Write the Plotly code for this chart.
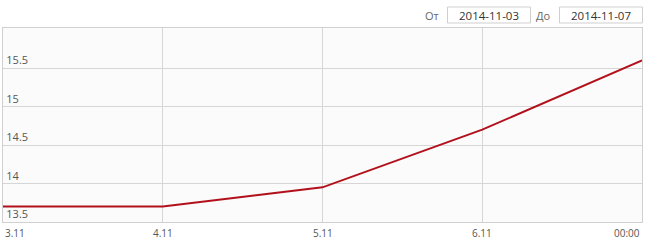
import plotly.graph_objects as go

# Data
day_labels = ["3.11", "4.11", "5.11", "6.11", "00:00"]
day_index = [0, 1, 2, 3, 4]
values = [13.7, 13.7, 13.95, 14.7, 15.6]
y_ticks = [13.5, 14, 14.5, 15, 15.5]
date_from = "2014-11-03"
date_to = "2014-11-07"

W, H = 647, 242
L, R, T, B = 3, 5, 28, 20
pw, ph = W - L - R, H - T - B


def px(x):
    return (x - L) / pw


def py(y):
    return (H - B - y) / ph


fig = go.Figure()
fig.add_trace(go.Scatter(
    x=day_index, y=values, mode="lines",
    line=dict(color="#b2111c", width=2),
    hoverinfo="skip", showlegend=False,
))

font = "Open Sans, DejaVu Sans, sans-serif"

annotations = []
for i, lab in zip(day_index, day_labels):
    anchor = "center"
    if i == day_index[0]:
        anchor = "left"
    elif i == day_index[-1]:
        anchor = "right"
    annotations.append(dict(
        x=i, y=0, xref="x", yref="paper", text=lab, showarrow=False,
        xanchor=anchor, yanchor="top", yshift=-2,
        font=dict(family=font, size=10, color="#555"),
    ))

# date controls
annotations.append(dict(x=px(441), y=py(15), xref="paper", yref="paper", text="От",
                        showarrow=False, xanchor="right", yanchor="middle",
                        font=dict(family=font, size=11, color="#666")))
annotations.append(dict(x=px(489), y=py(15), xref="paper", yref="paper", text=date_from,
                        showarrow=False, xanchor="center", yanchor="middle",
                        font=dict(family=font, size=11.5, color="#333")))
annotations.append(dict(x=px(553), y=py(15), xref="paper", yref="paper", text="До",
                        showarrow=False, xanchor="right", yanchor="middle",
                        font=dict(family=font, size=11, color="#666")))
annotations.append(dict(x=px(601), y=py(15), xref="paper", yref="paper", text=date_to,
                        showarrow=False, xanchor="center", yanchor="middle",
                        font=dict(family=font, size=11.5, color="#333")))

shapes = [
    dict(type="rect", xref="paper", yref="paper", x0=px(447.5), x1=px(530.5),
         y0=py(23), y1=py(7), line=dict(color="#cfcfcf", width=1), fillcolor="white"),
    dict(type="rect", xref="paper", yref="paper", x0=px(559.5), x1=px(642.5),
         y0=py(23), y1=py(7), line=dict(color="#cfcfcf", width=1), fillcolor="white"),
]

fig.update_layout(
    width=W, height=H,
    margin=dict(l=L, r=R, t=T, b=B),
    paper_bgcolor="white",
    plot_bgcolor="#fbfbfb",
    annotations=annotations,
    shapes=shapes,
    xaxis=dict(
        range=[day_index[0], day_index[-1]],
        tickvals=day_index, showticklabels=False,
        showgrid=True, gridcolor="#d6d6d6", gridwidth=1,
        zeroline=False, showline=True, mirror=True, linecolor="#d0d0d0", linewidth=1,
        fixedrange=True,
    ),
    yaxis=dict(
        range=[13.5, 16.02],
        tickvals=y_ticks, ticktext=[f"{v:g}" for v in y_ticks],
        ticklabelposition="inside top",
        ticklabelstandoff=2,
        tickfont=dict(family=font, size=11, color="#555"),
        showgrid=True, gridcolor="#d6d6d6", gridwidth=1,
        zeroline=False, showline=True, mirror=True, linecolor="#d0d0d0", linewidth=1,
        fixedrange=True,
    ),
)

fig.write_html("out.html")
